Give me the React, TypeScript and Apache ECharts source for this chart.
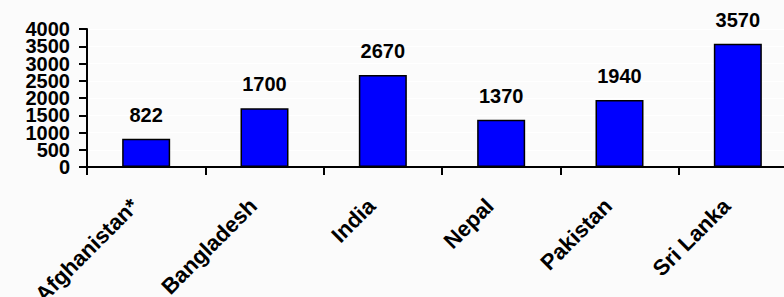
import React, { useEffect, useRef } from "react";
import * as echarts from "echarts";

const categories = ["Afghanistan*", "Bangladesh", "India", "Nepal", "Pakistan", "Sri Lanka"];
const values = [822, 1700, 2670, 1370, 1940, 3570];
const yTicks = [0, 500, 1000, 1500, 2000, 2500, 3000, 3500, 4000];

const FONT = "Arial, 'Liberation Sans', sans-serif";
const Y_MIN = yTicks[0];
const Y_MAX = yTicks[yTicks.length - 1];
const Y_STEP = yTicks[1] - yTicks[0];

const yLabelStyle = {
  margin: 17,
  color: "#000",
  fontFamily: FONT,
  fontWeight: "bold",
  fontSize: 20,
  lineHeight: 16,
  showMinLabel: true,
  showMaxLabel: true,
  hideOverlap: false,
};

export default function App() {
  const ref = useRef<HTMLDivElement>(null);
  useEffect(() => {
    if (!ref.current) return;
    const chart = echarts.init(ref.current, undefined, { renderer: "svg" });
    chart.setOption({
      animation: false,
      backgroundColor: "#fbfbfb",
      grid: {
        left: 87,
        top: 29,
        bottom: 130,
        right: -13,
        containLabel: false,
        outerBoundsMode: "none",
      },
      xAxis: {
        type: "category",
        data: categories,
        axisLine: { lineStyle: { color: "#000", width: 2 } },
        axisTick: { show: true, length: 8, lineStyle: { color: "#000", width: 2 } },
        axisLabel: {
          rotate: 45,
          interval: 0,
          margin: 24,
          padding: [0, 16, 0, 0],
          color: "#000",
          fontFamily: FONT,
          fontWeight: "bold",
          fontSize: 22,
        },
      },
      yAxis: [
        {
          type: "value",
          min: Y_MIN,
          max: Y_MAX,
          interval: Y_STEP,
          axisLine: { show: true, lineStyle: { color: "#000", width: 2 } },
          axisTick: { show: true, length: 8, lineStyle: { color: "#000", width: 2 } },
          splitLine: { show: true, lineStyle: { color: "#ffffff", width: 1 } },
          axisLabel: {
            ...yLabelStyle,
            formatter: (v: number) => (Math.round(v) % (2 * Y_STEP) === 0 ? String(v) : ""),
          },
        },
        {
          type: "value",
          position: "left",
          min: Y_MIN,
          max: Y_MAX,
          interval: Y_STEP,
          axisLine: { show: false },
          axisTick: { show: false },
          splitLine: { show: false },
          axisLabel: {
            ...yLabelStyle,
            formatter: (v: number) => (Math.round(v) % (2 * Y_STEP) !== 0 ? String(v) : ""),
          },
        },
      ],
      series: [
        {
          type: "bar",
          data: values,
          yAxisIndex: 0,
          barWidth: 48,
          itemStyle: { color: "#0000ff", borderColor: "#000", borderWidth: 1.5 },
          label: {
            show: true,
            position: "top",
            distance: 14,
            color: "#000",
            fontFamily: FONT,
            fontWeight: "bold",
            fontSize: 20,
          },
        },
      ],
    });
    return () => chart.dispose();
  }, []);
  return <div ref={ref} style={{ width: 784, height: 297, position: "absolute", left: 0, top: 0 }} />;
}
